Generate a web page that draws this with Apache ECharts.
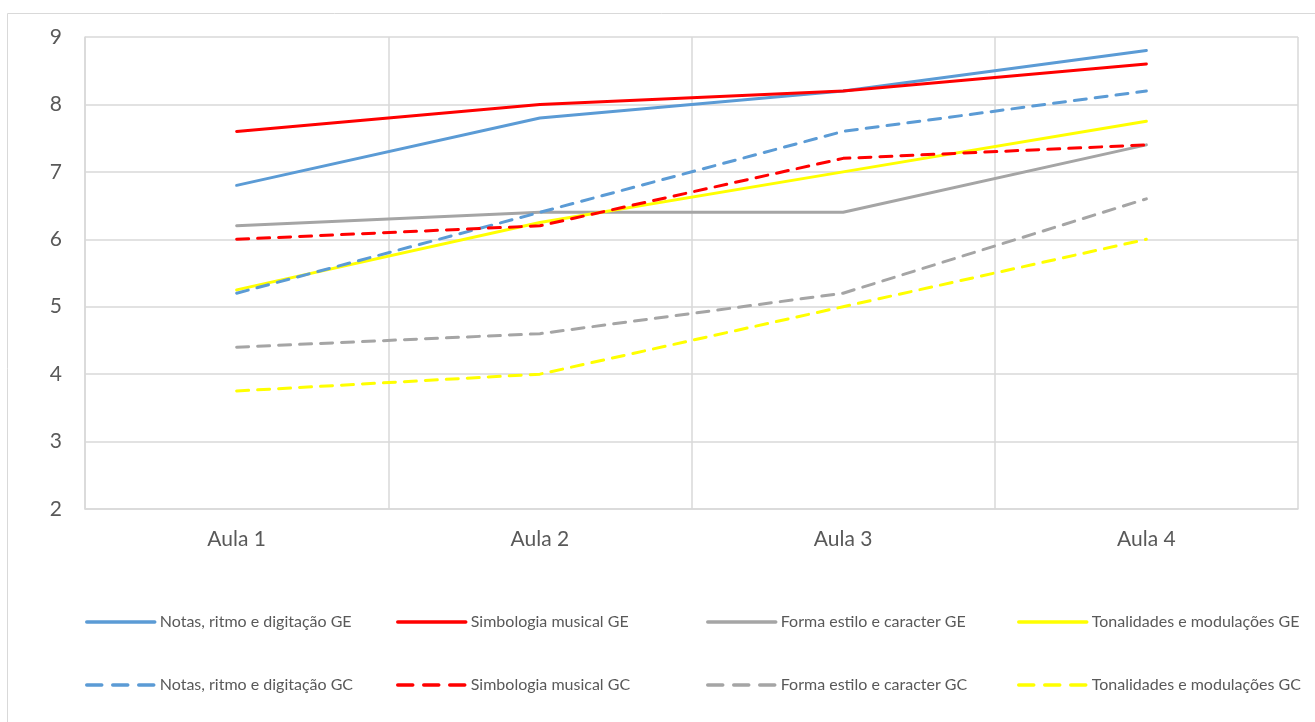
<!DOCTYPE html>
<html>
<head>
<meta charset="utf-8">
<title>Aulas</title>
<script src="https://cdn.jsdelivr.net/npm/echarts@6/dist/echarts.min.js"></script>
<style>
  html, body { margin: 0; padding: 0; background: #fff; }
  #chart { width: 1315px; height: 722px; }
</style>
</head>
<body>
<div id="chart"></div>
<script>
  // categories
  var aulas = ['Aula 1', 'Aula 2', 'Aula 3', 'Aula 4']

  // GE series (solid)
  var notasGE = [6.8, 7.8, 8.2, 8.8]
  var simbologiaGE = [7.6, 8.0, 8.2, 8.6]
  var formaGE = [6.2, 6.4, 6.4, 7.4]
  var tonalidadesGE = [5.25, 6.25, 7.0, 7.75]

  // GC series (dashed)
  var notasGC = [5.2, 6.4, 7.6, 8.2]
  var simbologiaGC = [6.0, 6.2, 7.2, 7.4]
  var formaGC = [4.4, 4.6, 5.2, 6.6]
  var tonalidadesGC = [3.75, 4.0, 5.0, 6.0]

  var seriesDefs = [
    { name: 'Notas, ritmo e digitação GE', data: notasGE, color: '#5B9BD5', dashed: false },
    { name: 'Simbologia musical GE', data: simbologiaGE, color: '#FF0000', dashed: false },
    { name: 'Forma estilo e caracter GE', data: formaGE, color: '#A5A5A5', dashed: false },
    { name: 'Tonalidades e modulações GE', data: tonalidadesGE, color: '#FFFF00', dashed: false },
    { name: 'Notas, ritmo e digitação GC', data: notasGC, color: '#5B9BD5', dashed: true },
    { name: 'Simbologia musical GC', data: simbologiaGC, color: '#FF0000', dashed: true },
    { name: 'Forma estilo e caracter GC', data: formaGC, color: '#A5A5A5', dashed: true },
    { name: 'Tonalidades e modulações GC', data: tonalidadesGC, color: '#FFFF00', dashed: true }
  ]

  var font = 'Lato, "Open Sans", sans-serif'
  var legendLeft = [85, 396, 706, 1017]
  var legendTop = [614, 677]

  var chart = echarts.init(document.getElementById('chart'))

  chart.setOption({
    animation: false,
    textStyle: { fontFamily: font },
    graphic: [{
      type: 'rect',
      shape: { x: 7.5, y: 13.5, width: 1330, height: 730 },
      style: { fill: 'none', stroke: '#d9d9d9', lineWidth: 1 },
      silent: true
    }],
    grid: { left: 85, top: 37, right: 17, bottom: 213 },
    legend: seriesDefs.map(function(s, i) {
      return {
        data: [s.name],
        left: legendLeft[i % 4],
        top: legendTop[Math.floor(i / 4)],
        padding: 0,
        itemWidth: 68,
        itemHeight: 14,
        itemGap: 6,
        selectedMode: false,
        itemStyle: { opacity: 0 },
        lineStyle: { width: 3.5, type: s.dashed ? [15, 11] : 'solid', cap: 'round' },
        textStyle: { color: '#595959', fontSize: 16, fontFamily: font }
      }
    }),
    xAxis: {
      type: 'category',
      data: aulas,
      boundaryGap: true,
      axisLine: { lineStyle: { color: '#d9d9d9', width: 1.5 } },
      axisTick: { show: false },
      axisLabel: { color: '#595959', fontSize: 21, margin: 20, fontFamily: font },
      splitLine: { show: true, lineStyle: { color: '#d9d9d9', width: 1.5 } }
    },
    yAxis: {
      type: 'value',
      min: 2,
      max: 9,
      interval: 1,
      axisLine: { show: true, lineStyle: { color: '#d9d9d9', width: 1.5 } },
      axisTick: { show: false },
      axisLabel: { color: '#595959', fontSize: 21, margin: 23, fontFamily: font },
      splitLine: { lineStyle: { color: '#d9d9d9', width: 1.5 } }
    },
    series: seriesDefs.map(function(s) {
      return {
        name: s.name,
        type: 'line',
        data: s.data,
        symbol: 'none',
        itemStyle: { color: s.color },
        lineStyle: {
          color: s.color,
          width: 3,
          type: s.dashed ? [12, 9] : 'solid',
          cap: 'round'
        }
      }
    })
  })
</script>
</body>
</html>
